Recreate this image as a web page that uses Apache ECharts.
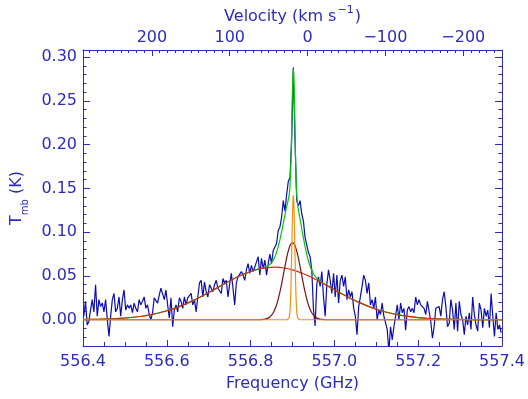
<!DOCTYPE html>
<html>
<head>
<meta charset="utf-8">
<script src="https://cdn.jsdelivr.net/npm/echarts@6/dist/echarts.min.js"></script>
<style>
  html, body { margin: 0; padding: 0; background: #ffffff; }
  #chart { width: 528px; height: 399px; }
</style>
</head>
<body>
<div id="chart"></div>
<script>
// Observed spectrum: regular channel grid
const FREQ_START = 556.402;   // GHz, centre of first channel
const CHANNEL_WIDTH = 0.004;  // GHz
const TMB = [
  0.004, 0.021, -0.006, -0.002, 0.011, 0.023, 0.009, 0.040, 0.004, 0.023,
  0.015, 0.019, 0.009, 0.023, 0.000, -0.019, 0.004, 0.023, 0.030, 0.009,
  0.013, 0.026, 0.004, 0.023, 0.034, 0.011, 0.017, 0.013, 0.017, 0.008,
  0.019, 0.013, 0.009, 0.023, 0.017, 0.021, 0.026, 0.013, 0.017, 0.006,
  0.000, 0.008, 0.025, 0.026, 0.019, 0.028, 0.036, 0.038, 0.023, 0.034,
  0.017, 0.002, 0.025, -0.008, 0.011, 0.017, 0.009, 0.025, 0.021, 0.013,
  0.026, 0.017, 0.025, 0.023, 0.030, 0.017, 0.023, 0.009, 0.026, 0.042,
  0.045, 0.026, 0.043, 0.032, 0.026, 0.040, 0.036, 0.032, 0.040, 0.045,
  0.036, 0.038, 0.030, 0.047, 0.042, 0.045, 0.026, 0.040, 0.053, 0.036,
  0.017, 0.042, 0.049, 0.047, 0.055, 0.051, 0.045, 0.057, 0.064, 0.053,
  0.062, 0.055, 0.060, 0.060, 0.072, 0.051, 0.070, 0.058, 0.068, 0.051,
  0.064, 0.075, 0.064, 0.079, 0.083, 0.087, 0.102, 0.106, 0.117, 0.136,
  0.124, 0.143, 0.158, 0.162, 0.205, 0.288, 0.205, 0.136, 0.130, 0.136,
  0.121, 0.113, 0.094, 0.096, 0.077, 0.072, 0.057, 0.012, -0.007, 0.041,
  0.049, 0.038, 0.055, 0.026, 0.004, 0.041, 0.057, 0.045, 0.030, 0.053,
  0.026, 0.051, 0.019, 0.045, 0.051, 0.038, 0.049, 0.023, 0.034, 0.026,
  0.032, 0.013, 0.004, -0.017, 0.015, 0.026, 0.038, 0.051, 0.045, 0.030,
  0.042, 0.017, 0.023, 0.013, 0.026, 0.000, 0.011, 0.006, 0.019, 0.004,
  0.006, -0.011, -0.036, -0.008, -0.023, -0.008, 0.004, 0.017, 0.000, 0.019,
  0.008, 0.013, -0.012, 0.011, 0.015, 0.009, 0.013, 0.008, 0.026, 0.017,
  0.023, 0.017, 0.019, 0.013, 0.006, 0.021, 0.019, -0.002, -0.021, -0.008,
  0.013, 0.011, 0.015, 0.004, 0.023, 0.032, 0.015, -0.008, -0.004, 0.023,
  0.011, -0.011, 0.019, -0.013, 0.021, 0.006, 0.000, -0.017, 0.004, -0.006,
  0.008, -0.011, 0.026, 0.006, -0.006, -0.013, 0.019, 0.011, -0.009, 0.013,
  0.004, 0.011, -0.009, 0.030, 0.004, -0.019, 0.008, -0.011, -0.006, -0.015
];

// Fitted components, sampled as [GHz, K]
const BROAD_FIT = [
  [556.40, 0.0002], [556.42, 0.0004], [556.44, 0.0006], [556.46, 0.0009], [556.48, 0.0013],
  [556.50, 0.0020], [556.52, 0.0028], [556.54, 0.0040], [556.56, 0.0056], [556.58, 0.0077],
  [556.60, 0.0102], [556.62, 0.0133], [556.64, 0.0170], [556.66, 0.0212], [556.68, 0.0260],
  [556.70, 0.0311], [556.72, 0.0364], [556.74, 0.0417], [556.76, 0.0468], [556.78, 0.0513],
  [556.80, 0.0551], [556.82, 0.0579], [556.84, 0.0596], [556.86, 0.0600], [556.88, 0.0591],
  [556.90, 0.0569], [556.92, 0.0537], [556.94, 0.0496], [556.96, 0.0448], [556.98, 0.0396],
  [557.00, 0.0343], [557.02, 0.0290], [557.04, 0.0240], [557.06, 0.0195], [557.08, 0.0155],
  [557.10, 0.0120], [557.12, 0.0091], [557.14, 0.0068], [557.16, 0.0049], [557.18, 0.0035],
  [557.20, 0.0024], [557.22, 0.0017], [557.24, 0.0011], [557.26, 0.0007], [557.28, 0.0005],
  [557.30, 0.0003], [557.32, 0.0002], [557.34, 0.0001], [557.36, 0.0001], [557.38, 0.0000],
  [557.40, 0.0000]
];
const MEDIUM_FIT = [
  [556.40, 0], [556.82, 0], [556.830, 0.0003], [556.835, 0.0007], [556.840, 0.0015],
  [556.845, 0.0029], [556.850, 0.0052], [556.855, 0.0089], [556.860, 0.0143], [556.865, 0.0219],
  [556.870, 0.0317], [556.875, 0.0433], [556.880, 0.0559], [556.885, 0.0682], [556.890, 0.0786],
  [556.895, 0.0855], [556.900, 0.0880], [556.905, 0.0855], [556.910, 0.0786], [556.915, 0.0682],
  [556.920, 0.0559], [556.925, 0.0433], [556.930, 0.0317], [556.935, 0.0219], [556.940, 0.0143],
  [556.945, 0.0089], [556.950, 0.0052], [556.955, 0.0029], [556.960, 0.0015], [556.965, 0.0007],
  [556.970, 0.0003], [556.98, 0], [557.40, 0]
];
const NARROW_FIT = [
  [556.40, 0], [556.888, 0], [556.890, 0.0004], [556.891, 0.0010], [556.892, 0.0024],
  [556.893, 0.0052], [556.894, 0.0104], [556.895, 0.0192], [556.896, 0.0327], [556.897, 0.0512],
  [556.898, 0.0739], [556.899, 0.0983], [556.900, 0.1206], [556.901, 0.1363], [556.902, 0.1420],
  [556.903, 0.1363], [556.904, 0.1206], [556.905, 0.0983], [556.906, 0.0739], [556.907, 0.0512],
  [556.908, 0.0327], [556.909, 0.0192], [556.910, 0.0104], [556.911, 0.0052], [556.912, 0.0024],
  [556.913, 0.0010], [556.914, 0.0004], [556.916, 0], [557.40, 0]
];
const TOTAL_FIT = [
  [556.40, 0.0002], [556.42, 0.0004], [556.44, 0.0006], [556.46, 0.0009], [556.48, 0.0013],
  [556.50, 0.0020], [556.52, 0.0028], [556.54, 0.0040], [556.56, 0.0056], [556.58, 0.0077],
  [556.60, 0.0102], [556.62, 0.0133], [556.64, 0.0170], [556.66, 0.0212], [556.68, 0.0260],
  [556.70, 0.0311], [556.72, 0.0364], [556.74, 0.0417], [556.76, 0.0468], [556.78, 0.0513],
  [556.80, 0.0551], [556.82, 0.0580],
  [556.830, 0.0592], [556.835, 0.0600], [556.840, 0.0611], [556.845, 0.0627], [556.850, 0.0652],
  [556.855, 0.0689], [556.860, 0.0743], [556.865, 0.0818], [556.870, 0.0914], [556.875, 0.1027],
  [556.880, 0.1150], [556.885, 0.1269],
  [556.890, 0.1372], [556.891, 0.1394], [556.892, 0.1422], [556.893, 0.1462], [556.894, 0.1526],
  [556.895, 0.1623], [556.896, 0.1766], [556.897, 0.1956], [556.898, 0.2187], [556.899, 0.2432],
  [556.900, 0.2655], [556.901, 0.2810], [556.902, 0.2862], [556.903, 0.2799], [556.904, 0.2634],
  [556.905, 0.2400], [556.906, 0.2145], [556.907, 0.1903], [556.908, 0.1703], [556.909, 0.1551],
  [556.910, 0.1445], [556.911, 0.1372], [556.912, 0.1322], [556.913, 0.1287], [556.914, 0.1257],
  [556.915, 0.1228], [556.920, 0.1096], [556.925, 0.0961], [556.930, 0.0834], [556.935, 0.0726],
  [556.940, 0.0639], [556.945, 0.0573], [556.950, 0.0525], [556.955, 0.0489], [556.960, 0.0463],
  [556.965, 0.0442], [556.970, 0.0425], [556.975, 0.0410], [556.98, 0.0396],
  [557.00, 0.0343], [557.02, 0.0290], [557.04, 0.0240], [557.06, 0.0195], [557.08, 0.0155],
  [557.10, 0.0120], [557.12, 0.0091], [557.14, 0.0068], [557.16, 0.0049], [557.18, 0.0035],
  [557.20, 0.0024], [557.22, 0.0017], [557.24, 0.0011], [557.26, 0.0007], [557.28, 0.0005],
  [557.30, 0.0003], [557.32, 0.0002], [557.34, 0.0001], [557.36, 0.0001], [557.38, 0.0000],
  [557.40, 0.0000]
];

// Axis ticks
const FREQ_TICKS = [556.4, 556.6, 556.8, 557.0, 557.2, 557.4];
const VEL_TICKS = [-200, -100, 0, 100, 200];
const TMB_TICKS = [0.00, 0.05, 0.10, 0.15, 0.20, 0.25, 0.30];

// Axis ranges
const FREQ_MIN = 556.4, FREQ_MAX = 557.4;
const TMB_MIN = -0.03, TMB_MAX = 0.308;
const REST_FREQ = 556.936;       // GHz, velocity zero
const C_KMS = 299792.458;
const velocityOf = f => C_KMS * (1 - f / REST_FREQ);
const VEL_LEFT = velocityOf(FREQ_MIN);
const VEL_RIGHT = velocityOf(FREQ_MAX);

function steps(a, b, d) {
  const out = [];
  const n = Math.round((b - a) / d);
  for (let k = 0; k <= n; k++) out.push(+(a + k * d).toFixed(6));
  return out;
}
const FREQ_MINOR = steps(556.4, 557.4, 0.05);
const VEL_MINOR = steps(-240, 280, 10);
const TMB_MINOR = steps(-0.03, 0.30, 0.01);

const INK = '#2b2bc0';
const FONT = 'DejaVu Sans';

const spectrum = TMB.map((t, i) => [+(FREQ_START + i * CHANNEL_WIDTH).toFixed(4), t]);

// Tick-only axis used for the minor tick marks on each side of the frame
function tickAxis(base, values, len) {
  return Object.assign({
    type: 'value',
    axisLine: { show: false, onZero: false },
    axisLabel: { show: false },
    splitLine: { show: false },
    axisTick: { show: true, inside: true, length: len, customValues: values,
                lineStyle: { color: INK, width: 1 } }
  }, base);
}

const chart = echarts.init(document.getElementById('chart'), null, { renderer: 'canvas' });
chart.setOption({
  animation: false,
  backgroundColor: '#ffffff',
  grid: { left: 83, right: 26, top: 47, bottom: 53, containLabel: false },
  xAxis: [
    {
      type: 'value', position: 'bottom', min: FREQ_MIN, max: FREQ_MAX,
      name: 'Frequency (GHz)', nameLocation: 'middle', nameGap: 30,
      nameTextStyle: { color: INK, fontFamily: FONT, fontSize: 16 },
      axisLine: { show: true, onZero: false, lineStyle: { color: INK, width: 1 } },
      axisTick: { show: true, inside: true, length: 6, customValues: FREQ_TICKS,
                  lineStyle: { color: INK, width: 1 } },
      axisLabel: { show: true, customValues: FREQ_TICKS, margin: 8, color: INK,
                   fontFamily: FONT, fontSize: 16, formatter: v => v.toFixed(1) },
      splitLine: { show: false }
    },
    tickAxis({ position: 'bottom', min: FREQ_MIN, max: FREQ_MAX }, FREQ_MINOR, 4),
    {
      type: 'value', position: 'top', min: VEL_RIGHT, max: VEL_LEFT, inverse: true,
      name: '{t|Velocity (km s}{sup|\u22121}{t|)}', nameLocation: 'middle', nameGap: 25,
      nameTextStyle: { color: INK, fontFamily: FONT, fontSize: 16,
        rich: {
          t: { color: INK, fontFamily: FONT, fontSize: 16, lineHeight: 20, verticalAlign: 'bottom' },
          sup: { color: INK, fontFamily: FONT, fontSize: 11, lineHeight: 20, verticalAlign: 'top', padding: [0, 1, 0, 1] }
        } },
      axisLine: { show: true, onZero: false, lineStyle: { color: INK, width: 1 } },
      axisTick: { show: true, inside: true, length: 6, customValues: VEL_TICKS,
                  lineStyle: { color: INK, width: 1 } },
      axisLabel: { show: true, customValues: VEL_TICKS, margin: 4, color: INK,
                   fontFamily: FONT, fontSize: 16,
                   formatter: v => String(Math.round(v)).replace('-', '\u2212') },
      splitLine: { show: false }
    },
    tickAxis({ position: 'top', min: VEL_RIGHT, max: VEL_LEFT, inverse: true }, VEL_MINOR, 3)
  ],
  yAxis: [
    {
      type: 'value', position: 'left', min: TMB_MIN, max: TMB_MAX,
      name: '{t|T}{s|mb}{t| (K)}', nameLocation: 'middle', nameGap: 42, nameRotate: 90,
      nameTextStyle: { color: INK, fontFamily: FONT, fontSize: 16,
        rich: {
          t: { color: INK, fontFamily: FONT, fontSize: 16, lineHeight: 28 },
          s: { color: INK, fontFamily: FONT, fontSize: 10, lineHeight: 28, verticalAlign: 'bottom' }
        } },
      axisLine: { show: true, onZero: false, lineStyle: { color: INK, width: 1 } },
      axisTick: { show: true, inside: true, length: 7, customValues: TMB_TICKS,
                  lineStyle: { color: INK, width: 1 } },
      axisLabel: { show: true, customValues: TMB_TICKS, margin: 6, color: INK,
                   fontFamily: FONT, fontSize: 16, formatter: v => v.toFixed(2) },
      splitLine: { show: false }
    },
    tickAxis({ position: 'left', min: TMB_MIN, max: TMB_MAX }, TMB_MINOR, 3.5),
    {
      type: 'value', position: 'right', min: TMB_MIN, max: TMB_MAX,
      axisLine: { show: true, onZero: false, lineStyle: { color: INK, width: 1 } },
      axisTick: { show: true, inside: true, length: 7, customValues: TMB_TICKS,
                  lineStyle: { color: INK, width: 1 } },
      axisLabel: { show: false },
      splitLine: { show: false }
    },
    tickAxis({ position: 'right', min: TMB_MIN, max: TMB_MAX }, TMB_MINOR, 3.5)
  ],
  series: [
    { name: 'Observed', type: 'line', data: spectrum, showSymbol: false, clip: true,
      lineStyle: { color: '#0c0cb4', width: 1.2 }, z: 2 },
    { name: 'Total fit', type: 'line', data: TOTAL_FIT, showSymbol: false, clip: true,
      lineStyle: { color: '#00c800', width: 1.2 }, z: 3 },
    { name: 'Broad', type: 'line', data: BROAD_FIT, showSymbol: false, smooth: 0.3, clip: true,
      lineStyle: { color: '#d02a14', width: 1.2 }, z: 4 },
    { name: 'Medium', type: 'line', data: MEDIUM_FIT, showSymbol: false, smooth: 0.3, clip: true,
      lineStyle: { color: '#801010', width: 1.2 }, z: 5 },
    { name: 'Narrow', type: 'line', data: NARROW_FIT, showSymbol: false, clip: true,
      lineStyle: { color: '#f09010', width: 1.2 }, z: 6 }
  ]
});
</script>
</body>
</html>
